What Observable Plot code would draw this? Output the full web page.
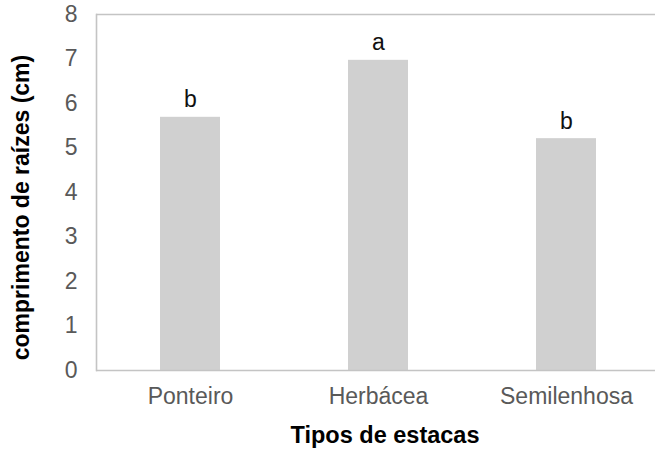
<!DOCTYPE html>
<html>
<head>
<meta charset="utf-8">
<script src="https://cdn.jsdelivr.net/npm/d3@7"></script>
<script src="https://cdn.jsdelivr.net/npm/@observablehq/plot@0.6"></script>
<style>
  html, body { margin: 0; padding: 0; background: #fff; }
  #chart svg { font-family: "Liberation Sans", Arial, sans-serif; }
</style>
</head>
<body>
<div id="chart"></div>
<script>
const categories = ["Ponteiro", "Herbácea", "Semilenhosa"];
const values = [5.69, 6.97, 5.21];
const letters = ["b", "a", "b"];
const yTicks = [0, 1, 2, 3, 4, 5, 6, 7, 8];
const yTitle = "comprimento de raízes (cm)";
const xTitle = "Tipos de estacas";

const data = categories.map((c, i) => ({cat: c, value: values[i], letter: letters[i]}));

const chart = Plot.plot({
  width: 655,
  height: 453,
  marginTop: 14,
  marginBottom: 83,
  marginLeft: 96,
  marginRight: 0,
  style: {background: "#fff", fontFamily: "'Liberation Sans', Arial, sans-serif"},
  x: {domain: categories, range: [96, 660], paddingInner: 0.68, paddingOuter: 0.34},
  y: {domain: [0, 8]},
  marks: [
    Plot.barY(data, {x: "cat", y: "value", fill: "#d0d0d0"}),
    Plot.ruleY([0, 8], {stroke: "#c4c4c4", strokeWidth: 1.6}),
    Plot.frame({anchor: "left", stroke: "#c4c4c4", strokeWidth: 1.6}),
    Plot.axisY({ticks: yTicks, tickSize: 0, tickPadding: 19, fontSize: 23, color: "#595959", label: null}),
    Plot.axisX({tickSize: 0, tickPadding: 17, fontSize: 23, color: "#595959", label: null}),
    Plot.text(data, {x: "cat", y: "value", text: "letter", lineAnchor: "bottom", dy: -10, fontSize: 23, fill: "#111"}),
    Plot.text([yTitle], {frameAnchor: "left", textAnchor: "middle", dx: -75, dy: 15, rotate: -90, fontSize: 23, fontWeight: "bold", fill: "#000"}),
    Plot.text([xTitle], {frameAnchor: "bottom", textAnchor: "middle", dx: 9, dy: 72, fontSize: 23.5, fontWeight: "bold", fill: "#000"})
  ]
});
document.getElementById("chart").appendChild(chart);
</script>
</body>
</html>
